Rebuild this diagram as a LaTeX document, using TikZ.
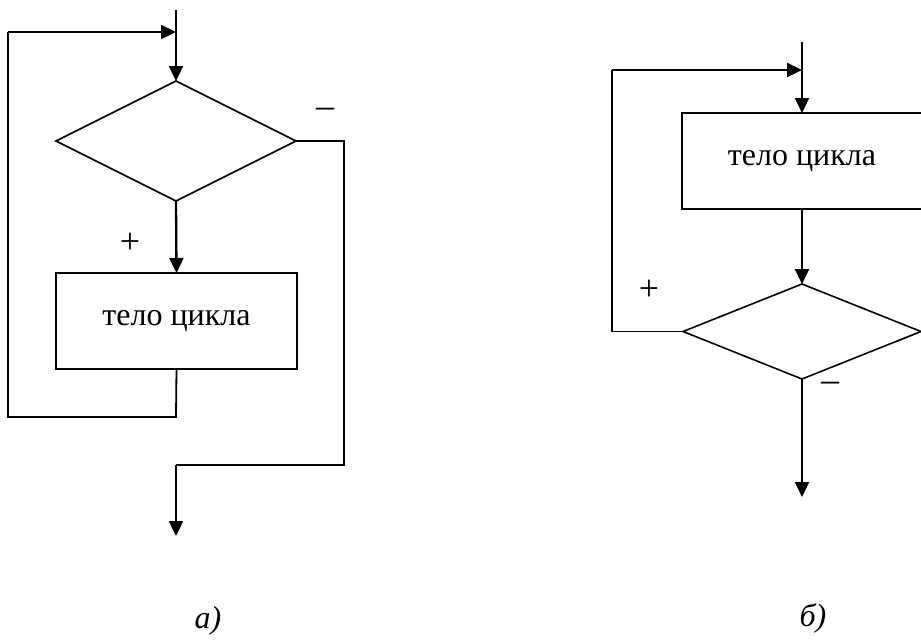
\documentclass[tikz,border=0pt]{standalone}
\usepackage{fontspec}
\setmainfont{Liberation Serif}
\usetikzlibrary{arrows.meta}
\usetikzlibrary{shapes.geometric}
\usetikzlibrary{positioning}

\tikzset{
    body/.style={
        rectangle, draw=black, line width=1.6pt,
        outer sep=0pt, inner sep=0pt,
        font=\fontsize{32}{38}\selectfont,
    },
    cond/.style={
        diamond, draw=black, line width=1.6pt,
        outer sep=0pt, inner sep=0pt,
    },
    link/.style={line width=1.8pt},
    flow/.style={line width=2.3pt, -{Triangle[length=15pt,width=14pt]}},
    sign/.style={font=\fontsize{36}{42}\selectfont},
    caption/.style={font=\fontsize{32}{38}\selectfont\itshape},
}

\begin{document}
\begin{tikzpicture}[x=1pt, y=-1pt]
        \useasboundingbox (0,0) rectangle (921,641);

        % a) loop with check before the body
        \coordinate (inA) at(176,10);
        \node (condA) at(176,141) [
            cond,
            minimum width=240pt, minimum height=120pt,
        ] {};
        \node (bodyA) at(176.5,321) [
            body,
            minimum width=241pt, minimum height=96pt,
        ] {тело цикла};
        \coordinate (backA) at(176,32);
        \coordinate (outA) at(176,465);

        \draw[flow] (inA) -- (condA.north);
        \draw[flow] (condA.south) -- (bodyA.north);
        \draw[link] (bodyA.south) -- (176,417) -- (8,417) -- (8,32);
        \draw[flow] (8,32) -- (backA);
        \draw[link] (condA.east) -- (344,141) -- (344,465) -- (outA);
        \draw[flow] (outA) -- (176,536);

        \node at(130,243) [sign] {+};
        \node at(325,113) [sign] {–};
        \node (capA) at(208,621) [caption] {а)};

        % b) loop with check after the body
        \coordinate (inB) at(802,42);
        \node (bodyB) at(802,161) [
            body,
            minimum width=240pt, minimum height=96pt,
        ] {тело цикла};
        \node (condB) at(802,331.5) [
            cond,
            minimum width=238pt, minimum height=95pt,
        ] {};
        \coordinate (backB) at(802,70);

        \draw[flow] (inB) -- (bodyB.north);
        \draw[flow] (bodyB.south) -- (condB.north);
        \draw[link] (condB.west) -- (612,331.5) -- (612,70);
        \draw[flow] (612,70) -- (backB);
        \draw[flow] (condB.south) -- (802,497);

        \node at(649,290) [sign] {+};
        \node at(830,387) [sign] {–};
        \node (capB) at(813,618) [caption] {б)};
    \end{tikzpicture}
\end{document}
